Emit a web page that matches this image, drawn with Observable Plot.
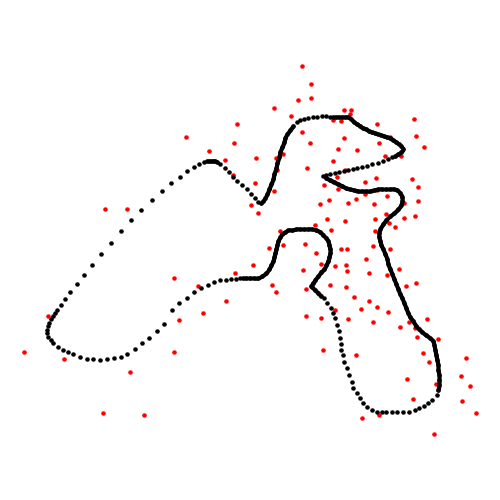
<!DOCTYPE html>
<html>
<head>
<meta charset="utf-8">
<script src="https://cdn.jsdelivr.net/npm/d3@7"></script>
<script src="https://cdn.jsdelivr.net/npm/@observablehq/plot@0.6"></script>
<style>
  html, body { margin: 0; padding: 0; background: #fff; }
  #chart svg { display: block; }
</style>
</head>
<body>
<div id="chart"></div>
<script>
// Closed curve points (black), in path order
const curveX = [
  164,157,149,142,135,127,121,114,107,100,93,87,80,73,68,63,58,53,51,48,47,47,48,49,51,53,55,57,61,65,70,77,84,92,101,111,121,131,141,152,162,171,180,187,194,199,204,
  207,209,211,213,215,217,220,225,229,233,237,242,247,251,255,258,261,263,265,267,269,271,273,274,276,277,279,280,282,284,285,287,290,293,297,
  300,304,308,313,317,322,326,330,333,
  336,339,342,345,348,351,354,357,360,363,366,369,372,375,378,381,384,387,390,393,396,399,401,403,401,398,395,392,
  388,383,378,372,367,362,357,353,348,344,339,335,330,326,323,
  326,330,334,338,342,346,350,354,358,362,366,370,374,378,382,386,390,394,397,400,402,402,401,398,394,390,386,383,380,379,379,380,381,383,385,387,388,390,392,394,396,398,400,402,404,406,408,410,413,416,419,422,426,430,433,434,435,436,437,438,438,439,439,439,438,437,
  432,428,424,419,415,409,403,397,392,386,382,377,372,367,363,360,357,353,352,349,347,344,343,341,341,340,339,337,335,333,331,327,324,
  321,318,315,312,311,313,315,318,321,324,326,328,329,330,330,329,328,326,323,320,316,312,308,304,300,296,292,288,285,282,280,278,277,276,275,274,273,271,269,266,262,258,254,250,246,243,
  240,236,231,226,220,214,208,201,194,187,179,172
];
const curveY = [
  324,331,338,343,349,354,357,358,359,360,359,359,357,354,352,350,347,343,340,337,333,330,326,323,319,316,313,310,305,299,292,284,275,265,254,243,231,220,210,200,191,183,177,171,167,164,162,
  161,161,161,161,161,162,164,168,172,177,181,185,189,194,198,202,203,201,198,194,189,184,179,174,168,163,157,152,147,142,138,134,130,126,122,
  120,119,118,117,117,116,116,117,117,
  117,117,117,117,117,119,122,124,126,128,129,131,132,133,134,135,136,137,138,140,142,144,146,149,152,154,156,157,
  159,161,163,164,166,167,168,169,170,171,172,173,174,175,176,
  178,180,182,184,186,188,189,190,191,191,191,191,190,189,189,189,189,189,190,193,197,201,205,209,213,216,220,224,229,233,237,241,245,249,254,259,264,269,274,279,284,289,294,298,303,308,313,317,321,326,329,332,335,338,341,345,350,355,360,365,370,375,380,385,390,395,
  400,403,406,408,410,412,412,412,412,412,412,412,410,407,403,398,393,388,382,375,368,362,355,350,344,338,331,325,318,313,308,303,298,
  296,293,290,287,286,283,280,276,272,269,265,261,257,253,249,245,241,238,235,232,230,229,229,229,229,229,230,230,232,234,237,241,245,249,253,257,261,265,269,273,276,278,278,278,278,278,278,
  279,279,280,280,282,285,288,292,298,303,310,317
];
// Stretches of the curve (first and last point index) where the dots overlap into a solid band
const denseRuns = [[46, 53], [62, 81], [89, 118], [133, 199], [232, 279]];

// Scattered points (red)
const scatterX = [
  302,311,311,298,274,291,344,351,350,333,341,377,414,416,424,302,310,344,338,357,379,390,385,401,333,256,276,283,277,307,345,337,376,365,412,418,255,274,251,258,
  324,338,329,320,348,356,365,374,387,377,404,418,415,404,395,389,386,375,375,345,327,331,315,280,305,269,373,341,347,390,
  186,209,237,234,225,233,105,127,174,198,179,203,226,235,253,283,272,276,174,48,24,64,130,103,144,
  316,303,321,335,346,347,366,369,387,399,306,330,346,354,369,377,361,388,406,416,306,321,335,348,373,400,409,415,427,417,438,
  323,356,423,429,466,461,470,436,407,413,462,476,379,362,434
];
const scatterY = [
  66,84,98,100,108,116,110,110,114,120,121,124,119,136,147,132,143,138,149,150,143,137,156,156,161,158,158,154,170,168,170,177,178,182,179,187,183,191,205,213,
  185,189,200,204,203,199,194,204,196,190,203,201,216,218,227,223,214,219,231,221,219,230,225,231,244,248,246,249,249,249,
  137,151,124,143,160,175,209,209,278,286,320,313,301,273,265,245,285,292,352,316,352,359,372,413,415,
  253,270,264,266,265,271,259,273,275,269,289,285,287,297,301,307,309,312,286,283,316,318,310,319,322,327,322,328,319,337,339,
  350,355,353,362,358,376,386,384,379,399,401,413,415,418,434
];

const curve = curveX.map((x, i) => ({x, y: curveY[i]}));
const scatter = scatterX.map((x, i) => ({x, y: scatterY[i]}));

const chart = Plot.plot({
  width: 500,
  height: 500,
  margin: 0,
  x: {domain: [0, 500], axis: null},
  y: {domain: [0, 500], reverse: true, axis: null},
  marks: [
    Plot.dot(scatter, {x: "x", y: "y", r: 2.3, fill: "red", stroke: "none"}),
    ...denseRuns.map(([a, b]) =>
      Plot.line(curve.slice(a + 1, b), {x: "x", y: "y", stroke: "black", strokeWidth: 4.2,
        strokeLinecap: "round", strokeLinejoin: "round", curve: "catmull-rom"})),
    Plot.dot(curve, {x: "x", y: "y", r: 2.3, fill: "black", stroke: "none"})
  ]
});
document.getElementById("chart").appendChild(chart);
</script>
</body>
</html>
